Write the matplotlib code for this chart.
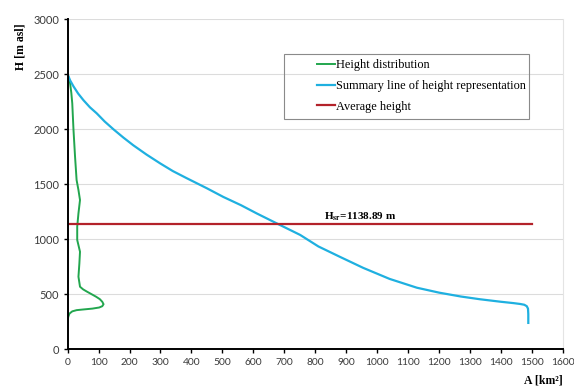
import matplotlib
matplotlib.use("Agg")
import matplotlib.pyplot as plt
from matplotlib.patches import Rectangle

# Summary line of height representation (cumulative area above height)
summary_area = [0, 0, 8, 19, 34, 51, 72, 94, 120, 148, 180, 212, 255, 299, 340, 385,
                449, 503, 560, 611, 686, 751, 810, 880, 955, 1040, 1128, 1200, 1270,
                1332, 1400, 1440, 1462, 1475, 1483, 1487, 1488, 1488]
summary_height = [2750, 2500, 2445, 2390, 2325, 2265, 2200, 2145, 2070, 2000, 1925,
                  1855, 1770, 1690, 1620, 1555, 1465, 1385, 1310, 1235, 1130, 1040,
                  935, 840, 740, 640, 560, 515, 480, 455, 432, 420, 412, 405, 392,
                  370, 320, 240]

# Height distribution
dist_area = [0, 4, 8, 12, 15, 19, 24, 29, 35, 40, 35, 31, 31, 40, 38, 35, 40, 50,
             62, 78, 92, 104, 112, 116, 112, 102, 80, 50, 29, 15, 6, 2, 0]
dist_height = [2505, 2460, 2418, 2330, 2236, 1994, 1751, 1539, 1448, 1357, 1236,
               1115, 994, 887, 782, 660, 569, 545, 525, 500, 478, 456, 432, 410,
               392, 380, 370, 362, 356, 345, 325, 295, 251]

# Average height
avg_height = 1138.89
avg_span = [0, 1500]

green = "#22a64e"
blue = "#1fb0e0"
red = "#b3222a"

fig = plt.figure(figsize=(5.74, 3.92), dpi=100)
ax = fig.add_axes([0.1178, 0.1089, 0.9808 - 0.1178, 0.9508 - 0.1089])

ax.plot(dist_area, dist_height, color=green, lw=1.4, label="Height distribution")
ax.plot(summary_area, summary_height, color=blue, lw=1.6,
        label="Summary line of height representation")
ax.plot(avg_span, [avg_height, avg_height], color=red, lw=1.6, label="Average height")

ax.set_xlim(0, 1600)
ax.set_ylim(0, 3000)
ax.set_xticks(range(0, 1601, 100))
ax.set_yticks(range(0, 3001, 500))

ax.yaxis.grid(True, color="#dcdcdc", lw=0.8)
ax.set_axisbelow(True)

for side in ("left", "bottom"):
    ax.spines[side].set_color("black")
    ax.spines[side].set_linewidth(1.4)
ax.spines["top"].set_visible(False)
ax.spines["right"].set_color("#e4e4e4")
ax.spines["right"].set_linewidth(0.8)

ax.tick_params(axis="both", direction="out", length=3, width=1, color="black", pad=3)
ax.tick_params(axis="y", labelsize=8)
ax.tick_params(axis="x", labelsize=7.4)
for lab in ax.get_xticklabels() + ax.get_yticklabels():
    lab.set_fontfamily("Lato")
    lab.set_color("#3a3a3a")

ax.set_ylabel("H [m asl]", fontfamily="Liberation Serif", fontweight="bold", fontsize=8.5)
ax.yaxis.set_label_coords(-0.082, 0.916)
ax.set_xlabel("A [km²]", fontfamily="Liberation Serif", fontweight="bold", fontsize=8.5)
ax.xaxis.set_label_coords(0.96, -0.075)

plt.rcParams["mathtext.fontset"] = "stix"
ax.text(828, 1150, r"H$_{\mathbf{sr}}$=1138.89 m", fontfamily="Liberation Serif",
        fontweight="bold", fontsize=8, ha="left", va="bottom")

leg = ax.legend(loc="upper left", bbox_to_anchor=(317 / 574, 1 - 59 / 392),
                bbox_transform=fig.transFigure, frameon=False, borderpad=0,
                borderaxespad=0, handlelength=1.45, handletextpad=0.1,
                labelspacing=0.72, prop={"family": "Liberation Serif", "size": 8.8})

fig.add_artist(Rectangle((284 / 574, 1 - 119 / 392), 245 / 574, 64.7 / 392,
                         transform=fig.transFigure, fill=False,
                         edgecolor="#8a8a8a", lw=0.8))

fig.savefig("out.png", dpi=100)
